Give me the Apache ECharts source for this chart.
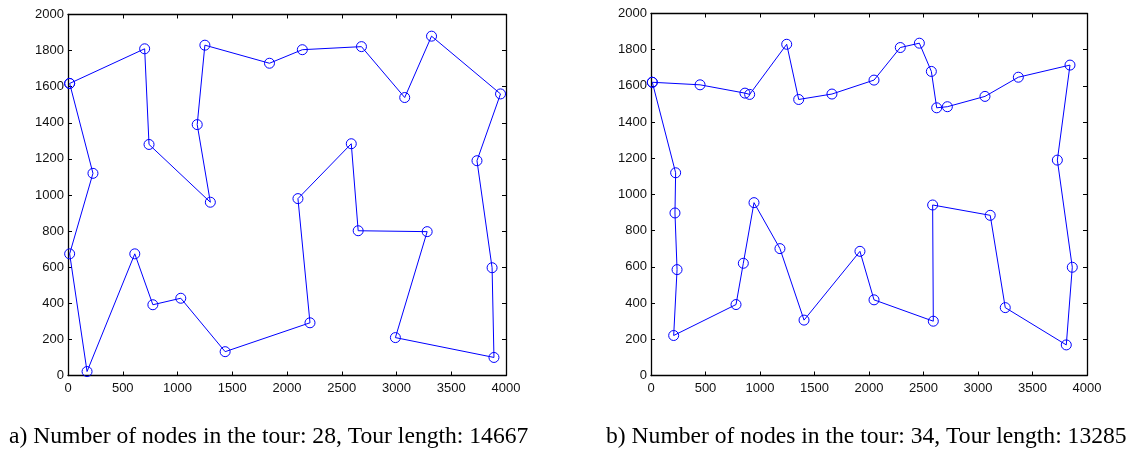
<!DOCTYPE html>
<html>
<head>
<meta charset="utf-8">
<script src="https://cdn.jsdelivr.net/npm/echarts@6/dist/echarts.min.js"></script>
<style>
html,body{margin:0;padding:0;background:#fff;}
#chart{width:1140px;height:456px;}
</style>
</head>
<body>
<div id="chart"></div>
<script>
// Tour a) 28 nodes, in visiting order
const tourAX = [15, 700, 740, 1300, 1180, 1250, 1840, 2140, 2680, 3075, 3320, 3950, 3735, 3873, 3890, 2990, 3280, 2650, 2587, 2100, 2210, 1435, 1030, 775, 610, 174, 15, 228];
const tourAY = [1618, 1810, 1280, 960, 1390, 1830, 1730, 1805, 1822, 1540, 1880, 1560, 1190, 597, 100, 210, 797, 802, 1284, 980, 292, 132, 428, 392, 674, 22, 674, 1120];
// Tour b) 34 nodes, in visiting order
const tourBX = [12, 450, 862, 905, 1245, 1355, 1660, 2046, 2287, 2462, 2572, 2621, 2719, 3064, 3370, 3844, 3728, 3865, 3810, 3250, 3112, 2584, 2590, 2046, 1917, 1404, 1183, 945, 847, 780, 208, 239, 220, 226];
const tourBY = [1620, 1606, 1560, 1553, 1830, 1525, 1555, 1632, 1812, 1836, 1680, 1479, 1485, 1542, 1648, 1715, 1190, 598, 169, 375, 885, 942, 300, 418, 686, 306, 701, 955, 620, 392, 221, 585, 898, 1120];
const xTicks = [0, 500, 1000, 1500, 2000, 2500, 3000, 3500, 4000];
const yTicks = [0, 200, 400, 600, 800, 1000, 1200, 1400, 1600, 1800, 2000];
const captionA = 'a) Number of nodes in the tour: 28, Tour length: 14667';
const captionB = 'b) Number of nodes in the tour: 34, Tour length: 13285';

function closedTour(xs, ys) {
  const pts = xs.map((x, i) => [x, ys[i]]);
  pts.push([xs[0], ys[0]]);
  return pts;
}

const labelFont = { fontFamily: 'Liberation Sans', fontSize: 13, color: '#111' };
const axisLine = { show: true, onZero: false, lineStyle: { color: '#000', width: 1.3 } };
const axisTick = { show: true, inside: true, length: 4, lineStyle: { color: '#000', width: 1 } };
const plainNum = v => String(v);

function xAxisDef(grid, pos, labels) {
  return {
    type: 'value', gridIndex: grid, position: pos, min: xTicks[0], max: xTicks[xTicks.length - 1], interval: xTicks[1] - xTicks[0],
    axisLine: axisLine, axisTick: axisTick, splitLine: { show: false },
    axisLabel: Object.assign({ show: labels, margin: 6, formatter: plainNum }, labelFont)
  };
}
function yAxisDef(grid, pos, labels) {
  return {
    type: 'value', gridIndex: grid, position: pos, min: yTicks[0], max: yTicks[yTicks.length - 1], interval: yTicks[1] - yTicks[0],
    axisLine: axisLine, axisTick: axisTick, splitLine: { show: false },
    axisLabel: Object.assign({ show: labels, margin: 4, formatter: plainNum }, labelFont)
  };
}

function tourSeries(grid, data) {
  return {
    type: 'line', xAxisIndex: grid * 2, yAxisIndex: grid * 2, data: data,
    symbol: 'circle', symbolSize: 10, showAllSymbol: true,
    lineStyle: { color: '#0000ff', width: 1 },
    itemStyle: { color: 'rgba(0,0,0,0)', borderColor: '#0000ff', borderWidth: 1 },
    emphasis: { disabled: true }, silent: true
  };
}

const chart = echarts.init(document.getElementById('chart'), null, { renderer: 'canvas' });
chart.setOption({
  animation: false,
  backgroundColor: '#fff',
  grid: [
    { left: 68, top: 14.5, width: 438, height: 361 },
    { left: 651, top: 13.5, width: 436, height: 362 }
  ],
  xAxis: [xAxisDef(0, 'bottom', true), xAxisDef(0, 'top', false), xAxisDef(1, 'bottom', true), xAxisDef(1, 'top', false)],
  yAxis: [yAxisDef(0, 'left', true), yAxisDef(0, 'right', false), yAxisDef(1, 'left', true), yAxisDef(1, 'right', false)],
  series: [tourSeries(0, closedTour(tourAX, tourAY)), tourSeries(1, closedTour(tourBX, tourBY))],
  graphic: [
    { type: 'text', left: 9, top: 425, style: { text: captionA, font: '23.6px "Liberation Serif"', fill: '#000' } },
    { type: 'text', left: 606, top: 425, style: { text: captionB, font: '23.6px "Liberation Serif"', fill: '#000' } }
  ]
});
</script>
</body>
</html>
